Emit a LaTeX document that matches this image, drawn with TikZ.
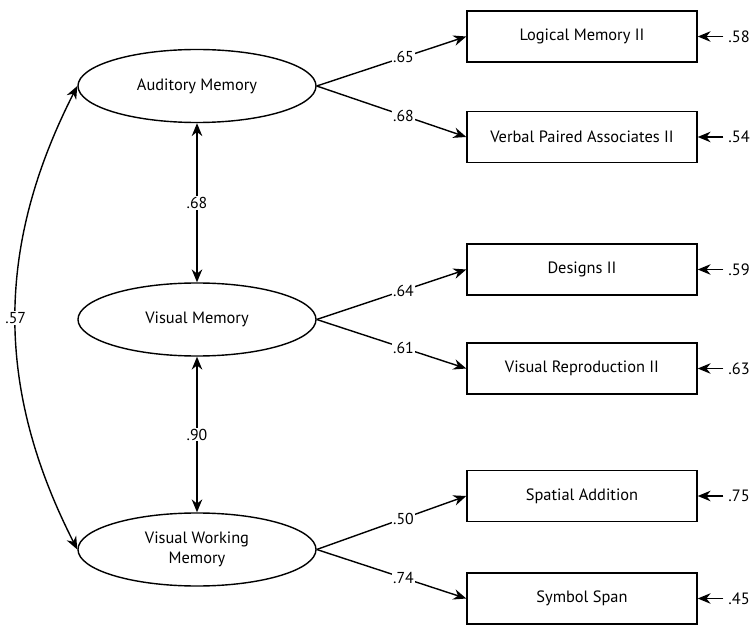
\documentclass[tikz,border=0pt]{standalone}
\usepackage{fontspec}
\setmainfont{PT Sans}
\usepackage{tikz}
\usetikzlibrary{arrows.meta,shapes.geometric}

\tikzset{
	latent/.style={ellipse, draw, line width=1.2pt, minimum width=7.14cm, minimum height=2.19cm, align=center, font=\fontsize{14}{17}\selectfont},
	observed/.style={rectangle, draw, line width=1.2pt, minimum width=6.9cm, minimum height=1.53cm, font=\fontsize{14}{17}\selectfont},
	lbl/.style={fill=white, inner sep=1pt, font=\fontsize{13.5}{16}\selectfont},
	err/.style={inner sep=4pt, font=\fontsize{14}{17}\selectfont},
	path/.style={line width=1.2pt, -{Stealth[length=11pt,width=9pt]}},
	cov/.style={line width=1.2pt, {Stealth[length=11pt,width=9pt]}-{Stealth[length=11pt,width=9pt]}}
}

\begin{document}
\begin{tikzpicture}[x=0.03cm, y=-0.03cm]
			\useasboundingbox (0,0) rectangle (750,625);

			\node[latent] (aud) at (197, 86) {Auditory Memory};
			\node[latent] (vis) at (197, 319.5) {Visual Memory};
			\node[latent] (vwm) at (197, 549.5) {Visual Working\\Memory};

			\node[observed] (lm) at (582, 36.5) {Logical Memory II};
			\node[observed] (vpa) at (582, 137) {Verbal Paired Associates II};
			\node[observed] (des) at (582, 269.5) {Designs II};
			\node[observed] (vr) at (582, 368.5) {Visual Reproduction II};
			\node[observed] (sa) at (582, 496) {Spatial Addition};
			\node[observed] (ss) at (582, 598.5) {Symbol Span};

			\node[err] (e1) at (739, 36.5) {.58};
			\node[err] (e2) at (739, 137) {.54};
			\node[err] (e3) at (739, 269.5) {.59};
			\node[err] (e4) at (739, 368.5) {.63};
			\node[err] (e5) at (739, 496) {.75};
			\node[err] (e6) at (739, 598.5) {.45};

			\draw [path] (aud.east) to node[lbl, pos=0.58] {.65} (lm.west);
			\draw [path] (aud.east) to node[lbl, pos=0.58] {.68} (vpa.west);
			\draw [path] (vis.east) to node[lbl, pos=0.58] {.64} (des.west);
			\draw [path] (vis.east) to node[lbl, pos=0.58] {.61} (vr.west);
			\draw [path] (vwm.east) to node[lbl, pos=0.58] {.50} (sa.west);
			\draw [path] (vwm.east) to node[lbl, pos=0.58] {.74} (ss.west);

			\draw [cov] (aud) to node[lbl] {.68} (vis);
			\draw [cov] (vis) to node[lbl] {.90} (vwm);
			\draw [cov] (aud.west) to[bend right=27] node[lbl] {.57} (vwm.west);

			\draw [path] (e1) to (lm);
			\draw [path] (e2) to (vpa);
			\draw [path] (e3) to (des);
			\draw [path] (e4) to (vr);
			\draw [path] (e5) to (sa);
			\draw [path] (e6) to (ss);
		\end{tikzpicture}
\end{document}
